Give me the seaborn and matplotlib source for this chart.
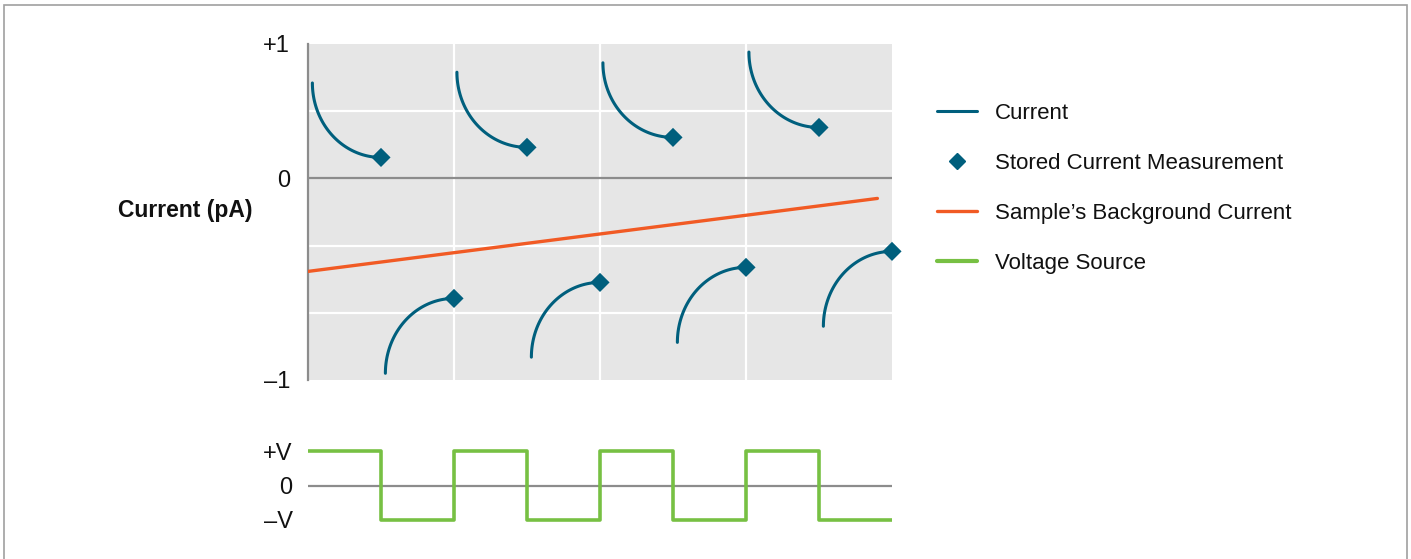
import numpy as np
import pandas as pd
import matplotlib
matplotlib.use("Agg")
import matplotlib.pyplot as plt
from matplotlib.lines import Line2D
from matplotlib.patches import Rectangle
import seaborn as sns

# ---------------- data ----------------
# Positive half-cycle current decays: start point -> stored measurement point
pos_start_x = [0.03, 1.02, 2.02, 3.02]
pos_start_y = [0.71, 0.79, 0.86, 0.94]
pos_end_x = [0.50, 1.50, 2.50, 3.50]
pos_end_y = [0.156, 0.231, 0.305, 0.379]

# Negative half-cycle current decays
neg_start_x = [0.53, 1.53, 2.53, 3.53]
neg_start_y = [-1.45, -1.33, -1.22, -1.10]
neg_end_x = [1.00, 2.00, 3.00, 4.00]
neg_end_y = [-0.893, -0.774, -0.662, -0.543]

# Sample's background current (straight line)
bg_x = [0.0, 3.90]
bg_y = [-0.692, -0.149]

# Voltage source square wave (+V = 1, -V = -1)
volt_t = [0.0, 0.5, 1.0, 1.5, 2.0, 2.5, 3.0, 3.5, 4.0]
volt_v = [1, -1, 1, -1, 1, -1, 1, -1, -1]

current_ticks = [1.0, 0.0, -1.5]
current_ticklabels = ["+1", "0", "\u20131"]
volt_ticks = [1, 0, -1]
volt_ticklabels = ["+V", "0", "\u2013V"]
legend_labels = ["Current", "Stored Current Measurement",
                 "Sample\u2019s Background Current", "Voltage Source"]

# ---------------- style ----------------
C_CUR = "#005f7d"
C_BG = "#f15a24"
C_V = "#77c043"
C_PANEL = "#e6e6e6"
C_AXIS = "#8c8c8c"
FS = 16
FS_TICK = 17

sns.set_theme(style="white")
plt.rcParams["font.family"] = ["Liberation Sans", "DejaVu Sans"]

W, H = 1411, 559
fig = plt.figure(figsize=(W / 100, H / 100), dpi=100)

def fx(px):
    return px / W

def fy(py):
    return (H - py) / H

# ---------------- top axes ----------------
ax = fig.add_axes([fx(308), fy(380), fx(892) - fx(308), fy(44) - fy(380)])
ax.set_facecolor(C_PANEL)
ax.set_xlim(0, 4)
ax.set_ylim(-1.5, 1.0)
ax.set_xticks([1, 2, 3])
ax.set_xticklabels([])
ax.set_yticks([-1.0, -0.5, 0.5], minor=True)
ax.set_yticks(current_ticks)
ax.set_yticklabels(current_ticklabels, fontsize=FS_TICK, color="#111111")
ax.grid(True, which="major", axis="x", color="white", linewidth=1.6)
ax.grid(True, which="minor", axis="y", color="white", linewidth=1.6)
ax.grid(False, which="major", axis="y")
ax.tick_params(axis="both", which="both", length=0)
ax.tick_params(axis="y", pad=13)
ax.set_axisbelow(True)
for s in ["top", "right", "bottom"]:
    ax.spines[s].set_visible(False)
ax.spines["left"].set_color(C_AXIS)
ax.spines["left"].set_linewidth(1.6)
ax.axhline(0, color=C_AXIS, linewidth=1.6, zorder=1)

t = np.linspace(0, np.pi / 2, 60)
for sx, sy, ex, ey in zip(pos_start_x, pos_start_y, pos_end_x, pos_end_y):
    rx, ry = ex - sx, sy - ey
    xs = ex - rx * np.cos(t)
    ys = sy - ry * np.sin(t)
    sns.lineplot(x=xs, y=ys, sort=False, color=C_CUR, linewidth=2.2, ax=ax, zorder=3)
for sx, sy, ex, ey in zip(neg_start_x, neg_start_y, neg_end_x, neg_end_y):
    rx, ry = ex - sx, ey - sy
    xs = ex - rx * np.cos(t)
    ys = sy + ry * np.sin(t)
    sns.lineplot(x=xs, y=ys, sort=False, color=C_CUR, linewidth=2.2, ax=ax, zorder=3)

meas = pd.DataFrame({"x": pos_end_x + neg_end_x, "y": pos_end_y + neg_end_y})
sns.scatterplot(data=meas, x="x", y="y", marker="D", s=95, color=C_CUR,
                edgecolor="none", ax=ax, zorder=4, clip_on=False)

sns.lineplot(x=bg_x, y=bg_y, color=C_BG, linewidth=2.4, ax=ax, zorder=3)
ax.set_xlabel("")
ax.set_ylabel("")

# ---------------- bottom axes (voltage) ----------------
vb = 537.25
vt = 433.75
ax2 = fig.add_axes([fx(308), fy(vb), fx(892) - fx(308), fy(vt) - fy(vb)])
ax2.set_facecolor("white")
ax2.set_xlim(0, 4)
ax2.set_ylim(-1.5, 1.5)
ax2.axhline(0, color=C_AXIS, linewidth=1.6, zorder=1)
sns.lineplot(x=volt_t, y=volt_v, drawstyle="steps-post", color=C_V,
             linewidth=2.6, ax=ax2, zorder=3)
ax2.set_xticks([])
ax2.set_yticks(volt_ticks)
ax2.set_yticklabels(volt_ticklabels, fontsize=FS_TICK, color="#111111")
ax2.tick_params(axis="y", length=0, pad=11)
for s in ax2.spines.values():
    s.set_visible(False)
ax2.set_xlabel("")
ax2.set_ylabel("")

# ---------------- labels / legend ----------------
fig.text(fx(252), fy(211), "Current (pA)", ha="right", va="center",
         fontsize=16.5, fontweight="bold", color="#111111")

handles = [
    Line2D([], [], color=C_CUR, linewidth=2.2),
    Line2D([], [], color=C_CUR, marker="D", linestyle="none", markersize=8.5),
    Line2D([], [], color=C_BG, linewidth=2.4),
    Line2D([], [], color=C_V, linewidth=3.0),
]
fig.legend(handles, legend_labels, loc="upper left",
           bbox_to_anchor=(fx(937), fy(103)), frameon=False,
           fontsize=FS, handlelength=1.8, handletextpad=0.8,
           labelspacing=1.3, borderaxespad=0, borderpad=0,
           labelcolor="#111111")

# figure border
fig.patches.append(Rectangle((fx(4), -0.02), fx(1407) - fx(4), fy(5) + 0.02,
                             transform=fig.transFigure, fill=False,
                             edgecolor="#a0a0a0", linewidth=1.2))

fig.savefig("out.png", dpi=100, facecolor="white")
